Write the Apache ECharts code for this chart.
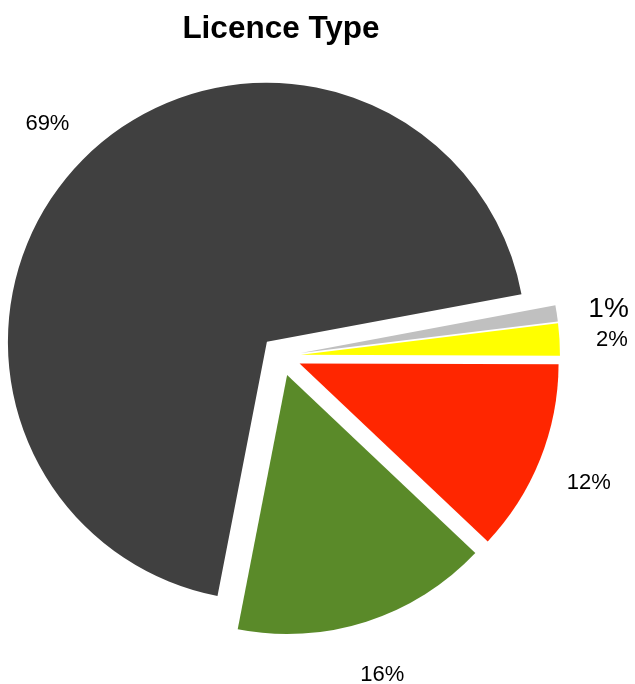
<!DOCTYPE html>
<html>
<head>
<meta charset="utf-8">
<title>Licence Type</title>
<script src="https://cdn.jsdelivr.net/npm/echarts@6/dist/echarts.min.js"></script>
<style>
  html, body { margin: 0; padding: 0; background: #ffffff; }
  #chart { width: 635px; height: 684px; }
</style>
</head>
<body>
<div id="chart"></div>
<script>
// Licence type shares, in percent (drawn clockwise)
const categories = ['Type A', 'Type E', 'Type D', 'Type C', 'Type B'];
const shares = [69, 1, 2, 12, 16];
const sliceColors = ['#404040', '#c0c0c0', '#ffff00', '#ff2600', '#5a8a29'];
const labelSizes = [22, 28, 22, 22, 22];

const FONT = '"Liberation Sans", Arial, Helvetica, sans-serif';
const PIE_CENTER = [281, 356];
const LABEL_CENTER = [281, 359.5];

const chart = echarts.init(document.getElementById('chart'), null, { renderer: 'canvas' });

chart.setOption({
  backgroundColor: '#ffffff',
  animation: false,
  title: {
    text: 'Licence Type',
    left: 281,
    top: 13,
    padding: 0,
    textAlign: 'center',
    textStyle: { fontFamily: FONT, fontWeight: 'bold', fontSize: 31.5, color: '#000000' }
  },
  series: [
    {
      // exploded slices
      type: 'pie',
      center: PIE_CENTER,
      radius: [0, 259],
      startAngle: 259,
      clockwise: true,
      selectedMode: 'multiple',
      selectedOffset: 20,
      silent: true,
      label: { show: false },
      labelLine: { show: false },
      emphasis: { disabled: true },
      itemStyle: { borderWidth: 0 },
      data: categories.map((name, i) => ({
        name: name,
        value: shares[i],
        selected: true,
        itemStyle: { color: sliceColors[i] },
        select: { itemStyle: { color: sliceColors[i], borderWidth: 0 } }
      }))
    },
    {
      // transparent ring that carries the percentage labels
      type: 'pie',
      center: LABEL_CENTER,
      radius: [318.5, 338.5],
      startAngle: 259,
      clockwise: true,
      silent: true,
      emphasis: { disabled: true },
      itemStyle: { color: 'rgba(0,0,0,0)' },
      labelLine: { show: false },
      label: {
        show: true,
        position: 'inside',
        formatter: '{c}%',
        fontFamily: FONT,
        color: '#000000'
      },
      data: categories.map((name, i) => ({
        name: name,
        value: shares[i],
        label: { fontSize: labelSizes[i] }
      }))
    }
  ]
});
</script>
</body>
</html>
